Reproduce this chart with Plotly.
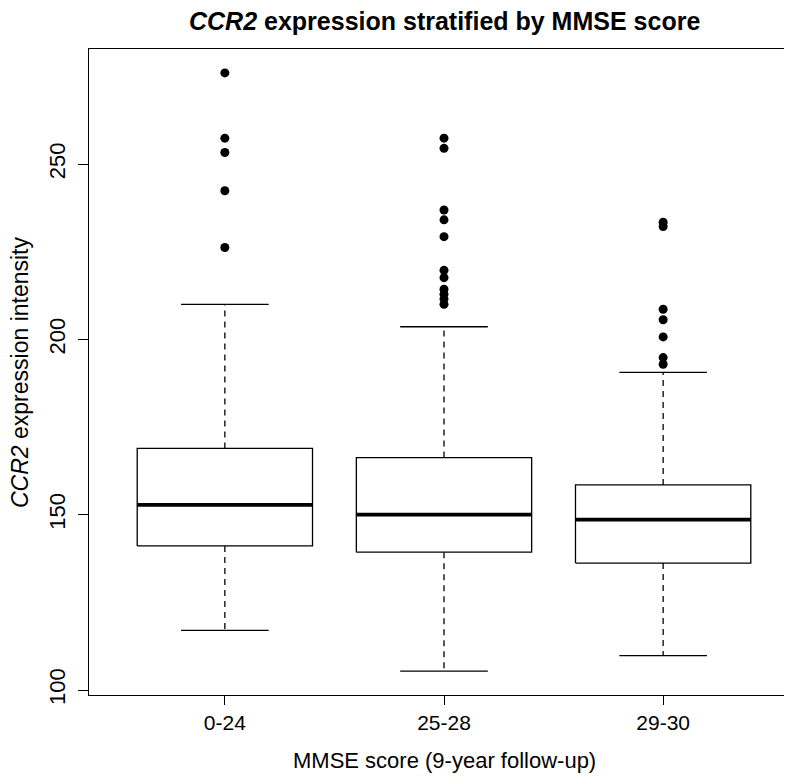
import plotly.graph_objects as go

# ---- data ----
groups = ["0-24", "25-28", "29-30"]
lower_whisker = [117.0, 105.4, 109.8]
q1 = [141.1, 139.3, 136.2]
median = [152.8, 150.0, 148.6]
q3 = [168.9, 166.3, 158.5]
upper_whisker = [210.0, 203.6, 190.6]
outliers_0_24 = [276.0, 257.4, 253.3, 242.4, 226.2]
outliers_25_28 = [257.4, 254.5, 236.9, 234.1, 229.3, 219.7, 217.6, 214.3, 212.9, 211.5, 210.0]
outliers_29_30 = [233.4, 232.2, 208.6, 205.6, 200.7, 194.8, 192.9]
outliers = [outliers_0_24, outliers_25_28, outliers_29_30]
y_ticks = [100, 150, 200, 250]

FONT = "Liberation Sans, Arial, Helvetica, sans-serif"
HALF_BOX = 0.4
HALF_STAPLE = 0.2

fig = go.Figure()

for i, g in enumerate(groups):
    x = i + 1
    fig.add_trace(go.Scatter(
        x=[x, x, None, x, x],
        y=[q3[i], upper_whisker[i], None, q1[i], lower_whisker[i]],
        mode="lines", line=dict(color="black", width=1.3, dash="6px,5px"),
        hoverinfo="skip", showlegend=False))
    fig.add_trace(go.Scatter(
        x=[x - HALF_STAPLE, x + HALF_STAPLE, None, x - HALF_STAPLE, x + HALF_STAPLE],
        y=[upper_whisker[i], upper_whisker[i], None, lower_whisker[i], lower_whisker[i]],
        mode="lines", line=dict(color="black", width=1.3),
        hoverinfo="skip", showlegend=False))
    fig.add_trace(go.Scatter(
        x=[x - HALF_BOX, x + HALF_BOX, x + HALF_BOX, x - HALF_BOX, x - HALF_BOX],
        y=[q1[i], q1[i], q3[i], q3[i], q1[i]],
        mode="lines", fill="toself", fillcolor="white",
        line=dict(color="black", width=1.3),
        hoverinfo="skip", showlegend=False))
    fig.add_trace(go.Scatter(
        x=[x - HALF_BOX, x + HALF_BOX], y=[median[i], median[i]],
        mode="lines", line=dict(color="black", width=3.8),
        hoverinfo="skip", showlegend=False))
    fig.add_trace(go.Scatter(
        x=[x] * len(outliers[i]), y=outliers[i], mode="markers",
        marker=dict(color="black", size=9, line=dict(width=0)),
        showlegend=False, name=g))

all_vals = lower_whisker + upper_whisker + [v for o in outliers for v in o]
lo, hi = min(all_vals), max(all_vals)
pad = 0.04 * (hi - lo)
n = len(groups)
xpad = 0.04 * n

PLOT_TOP, PLOT_BOTTOM, PLOT_LEFT, PLOT_RIGHT = 41, 687, 81, 791
plot_h = PLOT_BOTTOM - PLOT_TOP
plot_w = PLOT_RIGHT - PLOT_LEFT

fig.update_layout(
    width=792, height=776,
    margin=dict(l=PLOT_LEFT, r=792 - PLOT_RIGHT, t=PLOT_TOP, b=776 - PLOT_BOTTOM,
                autoexpand=False),
    paper_bgcolor="white", plot_bgcolor="white",
    font=dict(family=FONT, color="black", size=22),
    showlegend=False,
    xaxis=dict(
        range=[0.5 - xpad, n + 0.5 + xpad],
        tickmode="array", tickvals=list(range(1, n + 1)), ticktext=groups,
        ticks="outside", ticklen=9, tickwidth=1.3, tickcolor="black",
        showline=True, linecolor="black", linewidth=1.3, mirror=True,
        showgrid=False, zeroline=False, automargin=False,
        tickfont=dict(size=21, family=FONT, color="black"),
        ticklabelstandoff=0,
    ),
    yaxis=dict(
        range=[lo - pad, hi + pad],
        tickmode="array", tickvals=y_ticks, ticktext=[str(t) for t in y_ticks],
        ticks="outside", ticklen=10, tickwidth=1.3, tickcolor="black",
        showline=True, linecolor="black", linewidth=1.3, mirror=True,
        showgrid=False, zeroline=False, tickangle=-90, automargin=False,
        tickfont=dict(size=22, family=FONT, color="black"),
        ticklabelstandoff=4,
    ),
    annotations=[
        dict(text="<b><i>CCR2</i> expression stratified by MMSE score</b>",
             xref="paper", yref="paper", x=0.5, y=1 + (PLOT_TOP - 13) / plot_h,
             xanchor="center", yanchor="middle", showarrow=False,
             font=dict(size=25, family=FONT, color="black")),
        dict(text="MMSE score (9-year follow-up)",
             xref="paper", yref="paper", x=0.5, y=-(752 - PLOT_BOTTOM) / plot_h,
             xanchor="center", yanchor="middle", showarrow=False,
             font=dict(size=22, family=FONT, color="black")),
        dict(text="<i>CCR2</i> expression intensity",
             xref="paper", yref="paper", x=-(PLOT_LEFT - 12) / plot_w, y=0.5,
             xanchor="center", yanchor="middle", showarrow=False, textangle=-90,
             font=dict(size=23, family=FONT, color="black")),
    ],
)

fig.write_html("out.html", config={"displayModeBar": False})
